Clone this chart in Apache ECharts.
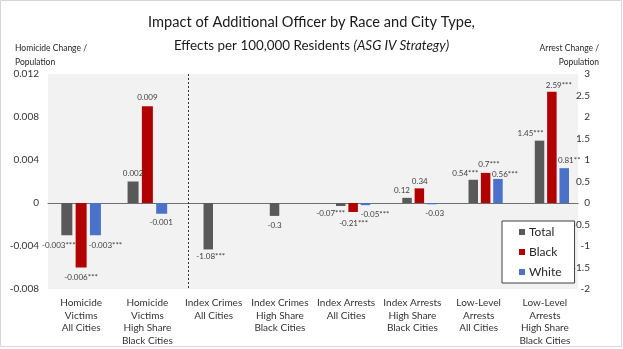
<!DOCTYPE html>
<html>
<head>
<meta charset="utf-8">
<script src="https://cdn.jsdelivr.net/npm/echarts@6/dist/echarts.min.js"></script>
<style>
  html, body { margin: 0; padding: 0; background: #fff; }
  #chart { width: 623px; height: 349px; }
</style>
</head>
<body>
<div id="chart"></div>
<script>
// Category labels along the bottom axis
const categories = [
  'Homicide\nVictims\nAll Cities',
  'Homicide\nVictims\nHigh Share\nBlack Cities',
  'Index Crimes\nAll Cities',
  'Index Crimes\nHigh Share\nBlack Cities',
  'Index Arrests\nAll Cities',
  'Index Arrests\nHigh Share\nBlack Cities',
  'Low-Level\nArrests\nAll Cities',
  'Low-Level\nArrests\nHigh Share\nBlack Cities'
];

// Homicide effects (left axis), first two categories
const homicideTotal = [-0.003, 0.002];
const homicideBlack = [-0.006, 0.009];
const homicideWhite = [-0.003, -0.001];
const homicideTotalStars = ['***', ''];
const homicideBlackStars = ['***', ''];
const homicideWhiteStars = ['***', ''];

// Crime / arrest effects (right axis), remaining categories
const arrestTotal = [null, null, -1.08, -0.3, -0.07, 0.12, 0.54, 1.45];
const arrestBlack = [null, null, null, null, -0.21, 0.34, 0.7, 2.59];
const arrestWhite = [null, null, null, null, -0.05, -0.03, 0.56, 0.81];
const arrestTotalStars = ['', '', '***', '', '***', '', '***', '***'];
const arrestBlackStars = ['', '', '', '', '***', '', '***', '***'];
const arrestWhiteStars = ['', '', '', '', '***', '', '***', '**'];

// Axis ticks
const leftMin = -0.008, leftMax = 0.012, leftStep = 0.004;
const rightMin = -2, rightMax = 3, rightStep = 0.5;

// Hand placement of value labels, [dx, dy] in pixels
const nudgeHomTotal = [[-8, 2], [0, -0.5]];
const nudgeHomBlack = [[0, 1.5], [0, -0.7]];
const nudgeHomWhite = [[10, 2], [-0.5, 1]];
const nudgeArrTotal = [null, null, [2.5, -0.7], [0, 2], [-10, -1], [-5, 1], [-8, 2], [-9, 1]];
const nudgeArrBlack = [null, null, null, null, [0.5, 3], [0.4, 1.5], [3.3, -0.6], [7, 1.7]];
const nudgeArrWhite = [null, null, null, null, [9.5, 1], [3, 1], [7, 3.4], [5, 0]];

const COLORS = { Total: '#595959', Black: '#b20000', White: '#4a72c9' };
const FONT = 'Lato, "Open Sans", sans-serif';
const TEXT = '#404040';

function buildData(values, stars, nudges) {
  return values.map(function (v, i) {
    if (v === null || v === undefined) return '-';
    return {
      value: v,
      label: {
        show: true,
        position: v < 0 ? 'bottom' : 'top',
        distance: 3,
        offset: nudges[i] || [0, 0],
        formatter: String(v) + stars[i]
      }
    };
  });
}

function barSeries(name, values, stars, nudges, axisIdx, width) {
  return {
    name: name,
    type: 'bar',
    xAxisIndex: axisIdx,
    yAxisIndex: axisIdx,
    barWidth: width,
    barGap: '30%',
    itemStyle: { color: COLORS[name] },
    label: { fontSize: 8, fontFamily: FONT, color: TEXT, lineHeight: 10 },
    data: buildData(values, stars, nudges),
    animation: false
  };
}

const chart = echarts.init(document.getElementById('chart'), null, { renderer: 'canvas' });

const option = {
  backgroundColor: '#ffffff',
  animation: false,
  textStyle: { fontFamily: FONT },
  grid: [
    { left: 48, right: 45, top: 74, height: 215, show: true, backgroundColor: '#f2f2f2', borderWidth: 0 },
    { left: 55, right: 38, top: 74, height: 215 }
  ],
  xAxis: [
    {
      type: 'category', gridIndex: 0, data: categories,
      axisLine: { show: true, onZero: true, lineStyle: { color: '#6f6f6f', width: 1 } },
      axisTick: { show: false },
      axisLabel: {
        interval: 0, margin: 8, fontSize: 10, lineHeight: 12.5,
        color: '#333', fontFamily: FONT, verticalAlign: 'top'
      },
      splitLine: { show: false }
    },
    {
      type: 'category', gridIndex: 1, data: categories, show: false
    }
  ],
  yAxis: [
    {
      type: 'value', gridIndex: 0, min: leftMin, max: leftMax, interval: leftStep,
      axisLine: { show: false }, axisTick: { show: false }, splitLine: { show: false },
      axisLabel: {
        margin: 9, fontSize: 10, color: '#333', fontFamily: FONT,
        formatter: function (v) { return Math.abs(v) < 1e-9 ? '0' : v.toFixed(3); }
      }
    },
    {
      type: 'value', gridIndex: 1, position: 'right', min: rightMin, max: rightMax, interval: rightStep,
      axisLine: { show: false }, axisTick: { show: false }, splitLine: { show: false },
      axisLabel: {
        margin: 5, align: 'right', fontSize: 10, color: '#333', fontFamily: FONT,
        formatter: function (v) { return String(Math.round(v * 10) / 10); }
      }
    }
  ],
  legend: {
    data: ['Total', 'Black', 'White'],
    orient: 'vertical',
    left: 502, top: 221,
    itemWidth: 6, itemHeight: 6, itemGap: 6,
    icon: 'rect',
    backgroundColor: '#ffffff',
    borderColor: '#404040', borderWidth: 1,
    padding: [4, 13, 4, 17],
    textStyle: { fontSize: 12, color: '#262626', fontFamily: FONT, lineHeight: 14, padding: [0, 0, 0, -1] }
  },
  series: [
    barSeries('Total', homicideTotal, homicideTotalStars, nudgeHomTotal, 0, 11),
    barSeries('Black', homicideBlack, homicideBlackStars, nudgeHomBlack, 0, 11),
    barSeries('White', homicideWhite, homicideWhiteStars, nudgeHomWhite, 0, 11),
    barSeries('Total', arrestTotal, arrestTotalStars, nudgeArrTotal, 1, 9.5),
    barSeries('Black', arrestBlack, arrestBlackStars, nudgeArrBlack, 1, 9.5),
    barSeries('White', arrestWhite, arrestWhiteStars, nudgeArrWhite, 1, 9.5)
  ],
  graphic: [
    {
      id: 'frame', type: 'rect', silent: true, z: -1,
      shape: { x: 0.5, y: 0.5, width: 621, height: 346 },
      style: { fill: 'none', stroke: '#d6d6d6', lineWidth: 1 }
    },
    {
      id: 'title1', type: 'text', left: 'center', top: 15,
      style: {
        text: 'Impact of Additional Officer by Race and City Type,',
        fontSize: 14.6, fontFamily: FONT, fill: '#1a1a1a'
      }
    },
    {
      id: 'title2', type: 'text', left: 'center', top: 39,
      style: {
        text: '{n|Effects per 100,000 Residents }{i|(ASG IV Strategy)}',
        rich: {
          n: { fontSize: 13.4, fontFamily: FONT, fill: '#1a1a1a' },
          i: { fontSize: 13.4, fontFamily: FONT, fontStyle: 'italic', fill: '#1a1a1a' }
        }
      }
    },
    {
      id: 'leftName', type: 'text', left: 15, top: 41,
      style: {
        text: 'Homicide Change /\nPopulation',
        fontSize: 8.5, lineHeight: 14, fontFamily: FONT, fill: '#262626'
      }
    },
    {
      id: 'rightName1', type: 'text', x: 599, y: 48,
      style: {
        text: 'Arrest Change /', fontSize: 8.5, fontFamily: FONT, fill: '#262626',
        align: 'right', verticalAlign: 'middle'
      }
    },
    {
      id: 'rightName2', type: 'text', x: 599, y: 62,
      style: {
        text: 'Population', fontSize: 8.5, fontFamily: FONT, fill: '#262626',
        align: 'right', verticalAlign: 'middle'
      }
    }
  ]
};

chart.setOption(option);

// Dashed divider between the homicide panel and the crime/arrest panel,
// placed at the band boundary of the right-axis category scale
const xLeft = chart.convertToPixel({ xAxisIndex: 1 }, categories[1]);
const xRight = chart.convertToPixel({ xAxisIndex: 1 }, categories[2]);
const yTop = chart.convertToPixel({ yAxisIndex: 1 }, rightMax);
const yBottom = chart.convertToPixel({ yAxisIndex: 1 }, rightMin);
const xDiv = Math.round((xLeft + xRight) / 2) + 0.5;
chart.setOption({
  graphic: [{
    id: 'divider', type: 'line', silent: true, z: 5,
    shape: { x1: xDiv, y1: yTop, x2: xDiv, y2: yBottom },
    style: { stroke: '#333', lineWidth: 1, lineDash: [2, 2] }
  }]
});
</script>
</body>
</html>
